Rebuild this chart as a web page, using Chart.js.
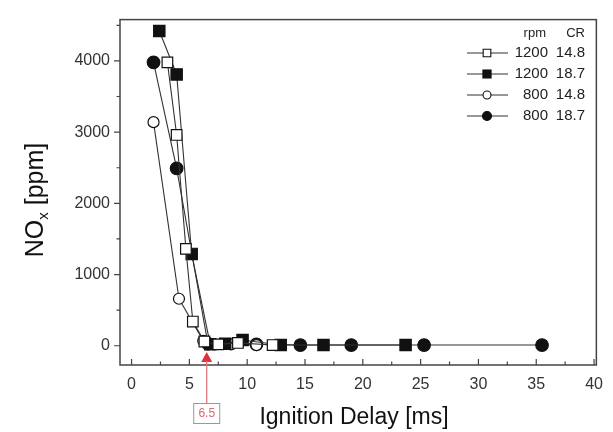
<!DOCTYPE html>
<html>
<head>
<meta charset="utf-8">
<script src="https://cdn.jsdelivr.net/npm/chart.js@4.4.1/dist/chart.umd.min.js"></script>
<style>
html,body{margin:0;padding:0;background:#fff;}
#wrap{width:613px;height:432px;}
</style>
</head>
<body>
<div id="wrap"><canvas id="c" width="613" height="432"></canvas></div>
<script>
// ---- data ----
const x1200_148 = [3.1, 3.9, 4.7, 5.3, 6.3, 7.5, 9.2, 12.2];
const y1200_148 = [3980, 2960, 1360, 340, 60, 20, 40, 10];
const x1200_187 = [2.4, 3.9, 5.2, 6.8, 8.1, 9.6, 12.9, 16.6, 23.7];
const y1200_187 = [4420, 3810, 1290, 20, 30, 80, 10, 10, 10];
const x800_148 = [1.9, 4.1, 6.2, 8.6, 10.8];
const y800_148 = [3140, 660, 70, 20, 10];
const x800_187 = [1.9, 3.9, 6.6, 10.8, 14.6, 19.0, 25.3, 35.5];
const y800_187 = [3980, 2490, 30, 20, 10, 10, 10, 10];

const legendRpm = ['1200', '1200', '800', '800'];
const legendCR = ['14.8', '18.7', '14.8', '18.7'];
const legendHead = ['rpm', 'CR'];

const xTicks = [0, 5, 10, 15, 20, 25, 30, 35, 40];
const yTicks = [0, 1000, 2000, 3000, 4000];
const markerValue = 6.5;
const markerLabel = '6.5';
const xTitle = 'Ignition Delay [ms]';

function pts(xs, ys) { return xs.map((x, i) => ({x: x, y: ys[i]})); }

const styles = [
  {style: 'rect', fill: '#ffffff', r: 7.5},
  {style: 'rect', fill: '#111111', r: 8},
  {style: 'circle', fill: '#ffffff', r: 5.5},
  {style: 'circle', fill: '#111111', r: 6.3}
];
const series = [pts(x1200_148, y1200_148), pts(x1200_187, y1200_187), pts(x800_148, y800_148), pts(x800_187, y800_187)];

const datasets = series.map((d, i) => ({
  label: legendRpm[i] + ' ' + legendCR[i],
  data: d,
  showLine: true,
  borderColor: '#333',
  borderWidth: 1.1,
  pointStyle: styles[i].style,
  pointRadius: styles[i].r,
  pointHoverRadius: styles[i].r,
  pointBackgroundColor: styles[i].fill,
  pointBorderColor: '#111',
  pointBorderWidth: 1.2,
  tension: 0
}));

const framePlugin = {
  id: 'frame',
  beforeDatasetsDraw(chart) {
    const ctx = chart.ctx, a = chart.chartArea;
    const xs = chart.scales.x, ys = chart.scales.y;
    ctx.save();
    ctx.strokeStyle = '#444';
    ctx.lineWidth = 1.5;
    ctx.strokeRect(a.left, a.top, a.right - a.left, a.bottom - a.top);
    ctx.lineWidth = 1.2;
    ctx.beginPath();
    for (let v = 0; v <= 40; v += 2.5) {
      const px = xs.getPixelForValue(v);
      const major = (v % 5 === 0);
      ctx.moveTo(px, a.bottom);
      ctx.lineTo(px, a.bottom - (major ? 6 : 3.5));
    }
    for (let v = 0; v <= 4500; v += 500) {
      const py = ys.getPixelForValue(v);
      const major = (v % 1000 === 0);
      ctx.moveTo(a.left, py);
      ctx.lineTo(a.left - (major ? 6 : 3.5), py);
    }
    ctx.stroke();
    ctx.restore();
  },
  afterDraw(chart) {
    const ctx = chart.ctx, a = chart.chartArea;
    const xs = chart.scales.x;
    ctx.save();
    // y title with subscript
    ctx.fillStyle = '#111';
    ctx.translate(36, 200);
    ctx.rotate(-Math.PI / 2);
    ctx.textBaseline = 'middle';
    const f1 = '25px "Liberation Sans", Arial, sans-serif';
    const f2 = '15px "Liberation Sans", Arial, sans-serif';
    ctx.font = f1; const wNO = ctx.measureText('NO').width;
    ctx.font = f2; const wx = ctx.measureText('x').width;
    ctx.font = f1; const wR = ctx.measureText(' [ppm]').width;
    let sx = -(wNO + wx + wR) / 2;
    ctx.textAlign = 'left';
    ctx.font = f1; ctx.fillText('NO', sx, 0); sx += wNO;
    ctx.font = f2; ctx.fillText('x', sx, 8); sx += wx;
    ctx.font = f1; ctx.fillText(' [ppm]', sx, 0);
    ctx.restore();

    // x title
    ctx.save();
    ctx.fillStyle = '#111';
    ctx.font = '23px "Liberation Sans", Arial, sans-serif';
    ctx.textAlign = 'center';
    ctx.textBaseline = 'middle';
    ctx.fillText(xTitle, 354, 418);
    ctx.restore();

    // legend
    ctx.save();
    ctx.fillStyle = '#222';
    ctx.textBaseline = 'middle';
    ctx.textAlign = 'right';
    ctx.font = '13px "Liberation Sans", Arial, sans-serif';
    ctx.fillText(legendHead[0], 546, 33);
    ctx.fillText(legendHead[1], 585, 33);
    ctx.font = '15px "Liberation Sans", Arial, sans-serif';
    for (let i = 0; i < 4; i++) {
      const y = 53 + i * 21;
      ctx.strokeStyle = '#333';
      ctx.lineWidth = 1.1;
      ctx.beginPath(); ctx.moveTo(467, y); ctx.lineTo(508, y); ctx.stroke();
      ctx.fillStyle = styles[i].fill;
      ctx.strokeStyle = '#111';
      ctx.lineWidth = 1.1;
      Chart.helpers.drawPoint(ctx, {pointStyle: styles[i].style, radius: styles[i].r * 0.72, rotation: 0, borderWidth: 1.1}, 487, y);
      ctx.fillStyle = '#222';
      ctx.fillText(legendRpm[i], 548, y);
      ctx.fillText(legendCR[i], 585, y);
    }
    ctx.restore();

    // red marker arrow at 6.5
    ctx.save();
    const mx = xs.getPixelForValue(markerValue);
    ctx.fillStyle = '#e0323a';
    ctx.beginPath();
    ctx.moveTo(mx, a.bottom - 13);
    ctx.lineTo(mx - 5.5, a.bottom - 3);
    ctx.lineTo(mx + 5.5, a.bottom - 3);
    ctx.closePath();
    ctx.fill();
    ctx.strokeStyle = '#e0707a';
    ctx.lineWidth = 1.2;
    ctx.beginPath(); ctx.moveTo(mx, a.bottom - 4); ctx.lineTo(mx, 403); ctx.stroke();
    ctx.strokeStyle = '#999';
    ctx.lineWidth = 1;
    ctx.strokeRect(mx - 13, 403.5, 26, 20);
    ctx.fillStyle = '#d86a70';
    ctx.font = '12px "Liberation Sans", Arial, sans-serif';
    ctx.textAlign = 'center';
    ctx.textBaseline = 'middle';
    ctx.fillText(markerLabel, mx, 414);
    ctx.restore();
  }
};

new Chart(document.getElementById('c'), {
  type: 'scatter',
  data: {datasets: datasets},
  options: {
    responsive: false,
    animation: false,
    layout: {padding: {top: 10, right: 10, left: 0, bottom: 0}},
    plugins: {legend: {display: false}, tooltip: {enabled: false}},
    scales: {
      x: {
        type: 'linear', min: -1, max: 40.2,
        afterBuildTicks(s) { s.ticks = xTicks.map(v => ({value: v})); },
        afterFit(s) { s.height = 67; },
        grid: {display: false, drawTicks: false},
        border: {display: false},
        ticks: {padding: 10, color: '#333', font: {size: 16, family: '"Liberation Sans", Arial, sans-serif'}, maxRotation: 0, autoSkip: false, callback: v => String(v)}
      },
      y: {
        type: 'linear', min: -270, max: 4580,
        afterBuildTicks(s) { s.ticks = yTicks.map(v => ({value: v})); },
        afterFit(s) { s.width = 120; },
        grid: {display: false, drawTicks: false},
        border: {display: false},
        ticks: {padding: 10, color: '#333', font: {size: 16, family: '"Liberation Sans", Arial, sans-serif'}, autoSkip: false, callback: v => String(v)}
      }
    }
  },
  plugins: [framePlugin]
});
</script>
</body>
</html>
